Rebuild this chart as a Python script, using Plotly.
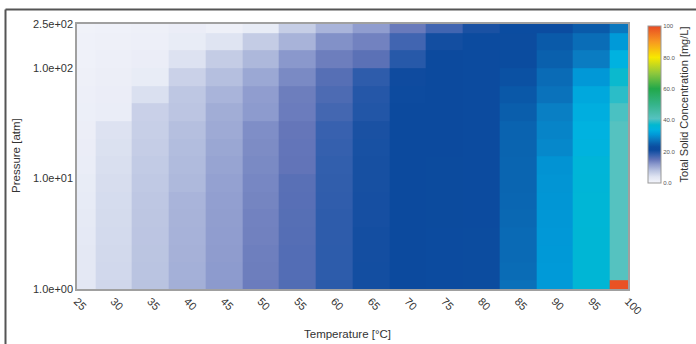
import plotly.graph_objects as go

temperatures = [25, 30, 35, 40, 45, 50, 55, 60, 65, 70, 75, 80, 85, 90, 95, 100]
pressures = [1.0, 1.444, 2.088, 3.017, 4.360, 6.300, 9.103, 13.153, 19.007,
             27.464, 39.685, 57.344, 82.861, 119.73, 173.01, 250.0]

# Total solid concentration [mg/L], one list per temperature, ordered by pressure (low -> high)
c25 = [3.2, 3.1, 3.0, 2.8, 2.6, 2.4, 2.2, 2.0, 1.8, 1.6, 1.5, 1.3, 1.2, 1.0, 1.0, 0.8]
c30 = [5.5, 5.4, 5.3, 5.2, 5.1, 5.0, 4.8, 4.6, 4.4, 4.2, 2.0, 1.8, 1.6, 1.4, 1.2, 1.0]
c35 = [7.9, 7.8, 7.7, 7.6, 7.5, 7.4, 7.2, 7.0, 6.7, 6.5, 6.3, 4.5, 2.2, 1.8, 1.4, 1.2]
c40 = [9.8, 9.7, 9.6, 9.5, 9.4, 9.3, 8.9, 8.7, 8.5, 8.3, 7.6, 7.4, 6.2, 4.2, 2.2, 1.8]
c45 = [11.8, 11.7, 11.6, 11.5, 11.4, 11.3, 11.1, 10.9, 10.6, 10.3, 10.0, 9.3, 8.3, 6.8, 4.0, 1.2]
c50 = [14.3, 14.2, 14.1, 13.9, 13.8, 13.6, 13.4, 13.2, 13.0, 12.8, 11.7, 11.5, 10.5, 9.0, 6.8, 2.2]
c55 = [16.1, 16.0, 16.0, 15.9, 15.8, 15.7, 15.6, 15.0, 14.9, 14.8, 14.3, 14.2, 13.2, 12.0, 9.4, 6.6]
c60 = [18.7, 18.6, 18.6, 18.5, 18.5, 18.4, 18.3, 18.2, 18.0, 17.8, 17.0, 16.4, 15.8, 14.2, 12.6, 9.3]
c65 = [20.5, 20.5, 20.4, 20.4, 20.3, 20.3, 20.2, 20.2, 20.1, 20.0, 19.4, 19.2, 18.5, 15.5, 13.8, 11.5]
c70 = [21.2, 21.2, 21.2, 21.1, 21.1, 21.1, 21.1, 21.0, 21.0, 21.0, 21.0, 20.9, 20.8, 19.0, 17.2, 14.5]
c75 = [21.5, 21.5, 21.5, 21.5, 21.4, 21.4, 21.4, 21.4, 21.3, 21.3, 21.3, 21.3, 21.2, 21.0, 20.5, 17.2]
c80 = [22.0, 22.0, 22.0, 22.0, 21.9, 21.9, 21.9, 21.9, 21.8, 21.8, 21.8, 21.8, 21.7, 21.7, 21.6, 20.0]
c85 = [26.8, 26.4, 26.2, 26.2, 26.0, 25.8, 25.7, 25.7, 25.6, 25.5, 25.0, 24.3, 23.5, 22.2, 22.0, 22.5]
c90 = [31.0, 31.0, 30.9, 30.8, 30.7, 30.6, 30.5, 30.3, 29.2, 28.8, 28.3, 27.0, 26.3, 25.2, 24.5, 22.5]
c95 = [36.0, 36.0, 36.0, 36.0, 35.9, 35.8, 35.7, 35.5, 34.3, 34.0, 33.5, 32.8, 30.8, 28.0, 26.5, 24.5]
c100 = [99.0, 41.0, 41.0, 41.0, 41.0, 41.0, 41.0, 41.0, 41.0, 41.0, 40.5, 39.0, 37.5, 34.0, 31.0, 27.5]

columns = [c25, c30, c35, c40, c45, c50, c55, c60, c65, c70, c75, c80, c85, c90, c95, c100]
z = [list(row) for row in zip(*columns)]  # rows = pressures, cols = temperatures

y_tickvals = [1, 10, 100, 250]
y_ticktext = ["1.0e+00", "1.0e+01", "1.0e+02", "2.5e+02"]
cb_tickvals = [0, 20, 40, 60, 80, 100]
cb_ticktext = ["0.0", "20.0", "40.0", "60.0", "80.0", "100"]

colorscale = [
    [0.00, '#f4f5fb'], [0.04, '#dfe4f2'], [0.08, '#b8c2e0'], [0.12, '#8a98cc'],
    [0.15, '#6274b8'], [0.18, '#3560ae'], [0.21, '#0c4a9e'], [0.23, '#0b4da0'],
    [0.25, '#0a5eac'], [0.28, '#0a7cc2'], [0.31, '#009ad8'], [0.34, '#00b2e0'],
    [0.37, '#00b8d0'], [0.41, '#55c2c0'], [0.50, '#35b48a'], [0.60, '#22a84a'],
    [0.70, '#90c83c'], [0.80, '#f8e800'], [0.90, '#f89820'], [1.00, '#e84a24'],
]

FONT = "Arial, Liberation Sans, sans-serif"
PL, PR, PT, PB = 77, 628, 24, 289  # plot area in pixels
PW, PH = PR - PL, PB - PT


def px(x):
    return (x - PL) / PW


def py(y):
    return (PB - y) / PH


fig = go.Figure(go.Heatmap(
    x=temperatures, y=pressures, z=z,
    colorscale=colorscale, zmin=0, zmax=100, zsmooth=False,
    colorbar=dict(
        x=px(648), xanchor='left', xref='paper', xpad=0, ypad=0,
        y=py(26), yanchor='top', len=157 / PH, lenmode='fraction',
        thickness=13, outlinewidth=1, outlinecolor='#999999',
        tickvals=cb_tickvals, ticktext=cb_ticktext, ticks='',
        tickfont=dict(size=6, color='#555555', family=FONT),
        title=dict(text='Total Solid Concentration [mg/L]', side='right',
                   font=dict(size=11, color='#333333', family=FONT)),
    ),
))

fig.update_layout(
    width=696, height=344,
    margin=dict(l=PL, r=696 - PR, t=PT, b=344 - PB, autoexpand=False),
    paper_bgcolor='white', plot_bgcolor='white',
    font=dict(family=FONT, color='#333333'),
    xaxis=dict(
        range=[25, 100], tickvals=temperatures, tickangle=45, ticks='',
        tickfont=dict(size=11, color='#333333'), automargin=False,
        showgrid=False, zeroline=False,
        showline=True, mirror=True, linecolor='#a0a0a0', linewidth=1.5,
    ),
    yaxis=dict(
        type='log', range=[0, 2.39794], tickvals=y_tickvals, ticktext=y_ticktext, ticks='',
        tickfont=dict(size=11, color='#333333'), automargin=False,
        showgrid=False, zeroline=False,
        showline=True, mirror=True, linecolor='#a0a0a0', linewidth=1.5,
    ),
    annotations=[
        dict(text='Temperature [°C]', xref='paper', yref='paper', x=px(347), y=py(334),
             xanchor='center', yanchor='middle',
             showarrow=False, font=dict(size=11.5, color='#333333')),
        dict(text='Pressure [atm]', xref='paper', yref='paper', x=px(16), y=py(156),
             xanchor='center', yanchor='middle',
             showarrow=False, textangle=-90, font=dict(size=11.5, color='#333333')),
    ],
    shapes=[
        dict(type='line', xref='paper', yref='paper', x0=px(5.5), x1=px(5.5), y0=py(360), y1=py(9.5),
             line=dict(color='#555555', width=2)),
        dict(type='line', xref='paper', yref='paper', x0=px(5.5), x1=px(710), y0=py(9.5), y1=py(9.5),
             line=dict(color='#555555', width=2)),
    ],
)

fig.write_html("out.html")
